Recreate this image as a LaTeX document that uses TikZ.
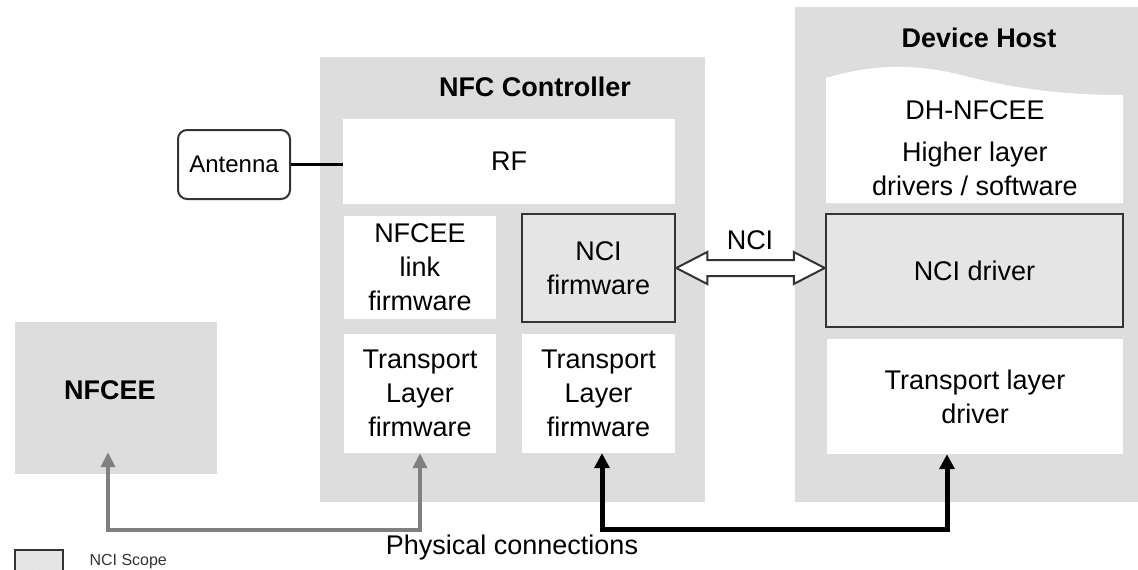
\documentclass[tikz,border=0pt]{standalone}
\usepackage{fontspec}
\setmainfont{Liberation Sans}
\usetikzlibrary{arrows.meta,patterns,calc}
\definecolor{panel}{HTML}{DDDDDD}
\definecolor{hatchbg}{HTML}{EAEAEA}
\definecolor{edge}{HTML}{333333}
\definecolor{physgray}{HTML}{808080}
\tikzset{
  txt/.style={font=\fontsize{27}{34}\selectfont, align=center, text=black},
  graybox/.style={fill=panel, draw=none, inner sep=0pt},
  wbox/.style={txt, fill=white, draw=none, inner sep=0pt},
  scopebox/.style={txt, draw=edge, line width=2.5pt, inner sep=0pt,
    preaction={fill=hatchbg},
    preaction={pattern=north east lines, pattern color=gray!22},
    preaction={pattern=north west lines, pattern color=gray!22}},
  title/.style={font=\fontsize{27}{34}\selectfont\bfseries, text=black},
  grayarr/.style={draw=physgray, line width=4pt, {Triangle[length=15pt,width=14pt]}-{Triangle[length=15pt,width=14pt]}},
  blackarr/.style={draw=black, line width=5pt, {Triangle[length=15pt,width=15pt]}-{Triangle[length=15pt,width=15pt]}},
}
\begin{document}
\begin{tikzpicture}[x=1pt,y=-1pt]
\useasboundingbox (0,0) rectangle (1138,570);
% panels
\node[graybox, minimum width=385pt, minimum height=445pt] (nfcc) at (512.5,279.5) {};
\node[graybox, minimum width=343pt, minimum height=495pt] (dh) at (966.5,254.5) {};
\node[graybox, minimum width=202pt, minimum height=152pt] (nfcee) at (116,398) {};
\node[title] (nfceelbl) at (110,390) {NFCEE};
\node[title] (nfcctitle) at (535,87) {NFC Controller};
\node[title] (dhtitle) at (979,38) {Device Host};
% NFC controller content
\node[wbox, minimum width=332pt, minimum height=85pt] (rf) at (509,161.5) {RF};
\node[wbox, minimum width=152pt, minimum height=103pt] (link) at (420,267.5) {NFCEE\\link\\firmware};
\node[scopebox, minimum width=153pt, minimum height=108pt] (ncifw) at (598.5,268) {NCI\\firmware};
\node[wbox, minimum width=152pt, minimum height=119pt] (tl) at (420,393.5) {Transport\\Layer\\firmware};
\node[wbox, minimum width=153pt, minimum height=119pt] (tr) at (598.5,393.5) {Transport\\Layer\\firmware};
% Device host content
\fill[white] (826,203) -- (826,78) .. controls (860,68) and (905,60) .. (965,76)
  .. controls (1015,89) and (1065,95) .. (1123,95) -- (1123,203) -- cycle;
\node[txt] (dhnfcee) at (975,110) {DH-NFCEE};
\node[txt] (higher) at (975,169) {Higher layer\\drivers / software};
\node[scopebox, minimum width=297pt, minimum height=113pt] (ncidrv) at (974.5,270.5) {NCI driver};
\node[wbox, minimum width=296pt, minimum height=115pt] (tld) at (975,396.5) {Transport layer\\driver};
% antenna
\node[txt, font=\fontsize{24}{30}\selectfont, draw=edge, line width=2pt, rounded corners=9pt, fill=white,
  minimum width=112pt, minimum height=69pt, inner sep=0pt] (ant) at (234,164.5) {Antenna};
\draw[black, line width=3pt] (ant.east) -- (rf.west |- ant.east);
% NCI double arrow
\coordinate (la) at (ncifw.east);
\coordinate (ra) at (ncidrv.west |- ncifw.east);
\draw[edge, line width=2pt, fill=white, line join=miter]
  (la) -- ($(la)+(31,-16)$) -- ($(la)+(31,-8)$) -- ($(ra)+(-31,-8)$) -- ($(ra)+(-31,-16)$)
  -- (ra) -- ($(ra)+(-31,16)$) -- ($(ra)+(-31,8)$) -- ($(la)+(31,8)$) -- ($(la)+(31,16)$) -- cycle;
\node[txt] (ncilbl) at (750,240) {NCI};
% physical connections
\coordinate (gl) at (108,530);
\coordinate (gr) at (tl.south |- gl);
\draw[grayarr] ($(nfcee.south -| gl)+(0,-22)$) -- (gl) -- (gr) -- (tl.south);
\coordinate (bl) at (602,529);
\coordinate (br) at (947,529);
\draw[blackarr] (bl |- tr.south) -- (bl) -- (br) -- (br |- tld.south);
\node[txt] (phys) at (512,548) {Physical connections};
% legend
\node[scopebox, line width=1.5pt, minimum width=48pt, minimum height=24pt] (leg) at (39,562) {};
\node[font=\fontsize{16}{19}\selectfont, text=edge, anchor=west] (leglbl) at (86,562) {NCI Scope};
\end{tikzpicture}
\end{document}
